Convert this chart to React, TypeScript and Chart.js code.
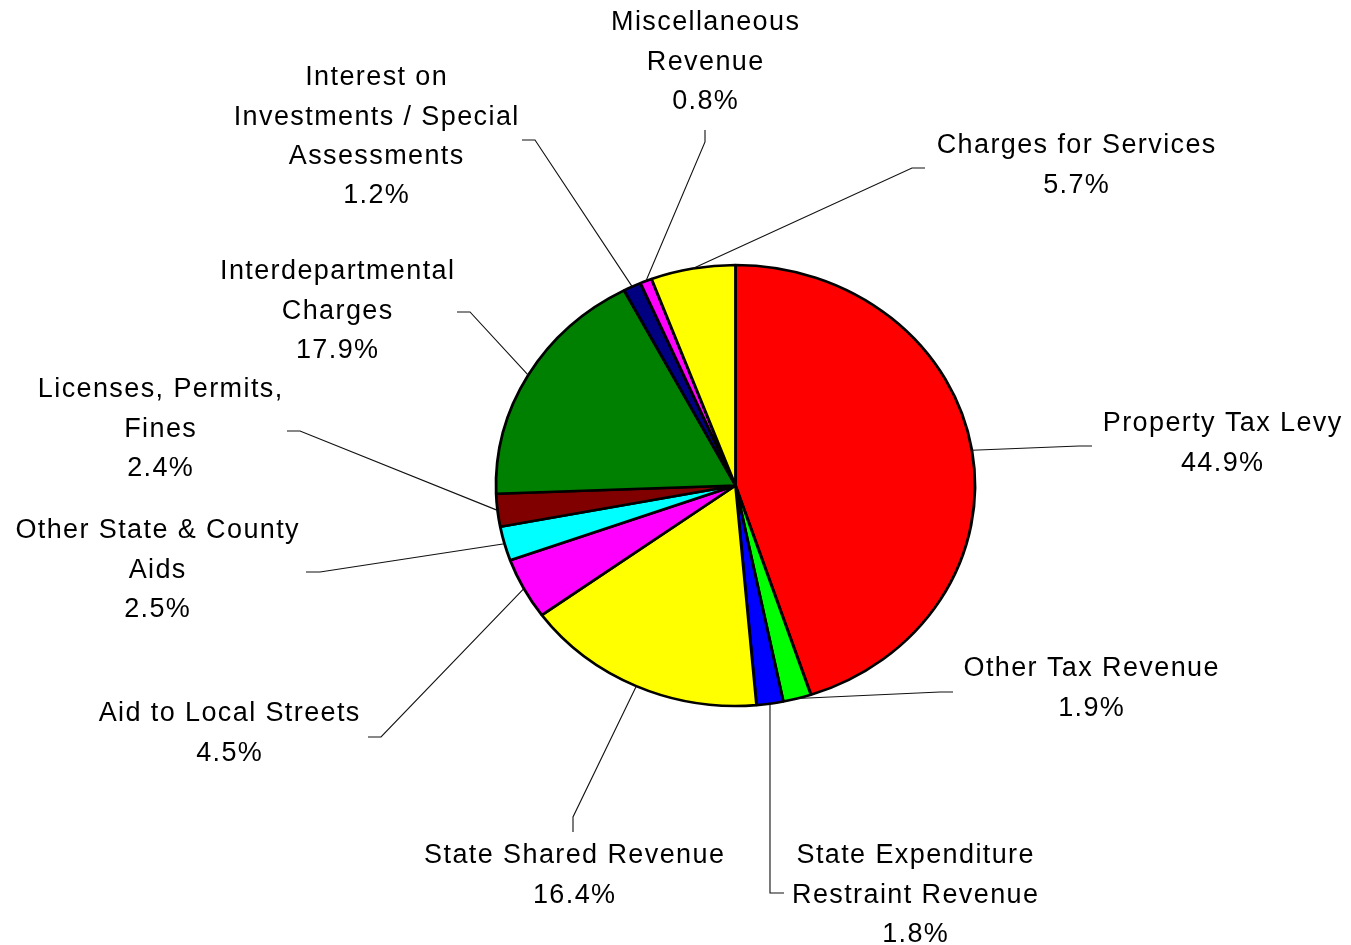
import React, { useEffect, useRef } from "react";
import { Chart, registerables } from "chart.js";

Chart.register(...registerables);

// ---- data ----
const categories: string[][] = [
  ["Property Tax Levy"],
  ["Other Tax Revenue"],
  ["State Expenditure", "Restraint Revenue"],
  ["State Shared Revenue"],
  ["Aid to Local Streets"],
  ["Other State & County", "Aids"],
  ["Licenses, Permits,", "Fines"],
  ["Interdepartmental", "Charges"],
  ["Interest on", "Investments / Special", "Assessments"],
  ["Miscellaneous", "Revenue"],
  ["Charges for Services"],
];
const shares: number[] = [44.9, 1.9, 1.8, 16.4, 4.5, 2.5, 2.4, 17.9, 1.2, 0.8, 5.7];
const sliceColors: string[] = [
  "#FF0000", "#00FF00", "#0000FF", "#FFFF00", "#FF00FF", "#00FFFF",
  "#800000", "#008000", "#000080", "#FF00FF", "#FFFF00",
];

// ---- layout (label placement, leader elbows) ----
const labelPos: [number, number][] = [
  [1222, 424], [1091, 669], [915, 856], [574, 856], [229, 714], [157, 531],
  [160, 390], [337, 272], [376, 78], [705, 23], [1076, 146],
];
const leaderElbow: [number, number][] = [
  [1079, 446], [940, 692], [770, 893], [573, 817], [381, 737], [320, 572],
  [300, 431], [470, 312], [535, 140], [705, 142], [912, 168],
];
const leaderEnd: [number, number][] = [
  [1092, 446], [953, 692], [784, 893], [573, 832], [368, 737], [306, 572],
  [287, 431], [457, 312], [522, 140], [705, 130], [925, 168],
];

const SX = 239.5 / 220.5; // horizontal stretch of the pie
const LINE_H = 39.3;
const LS = 1.4;

const stretchPlugin = {
  id: "stretch",
  beforeDatasetsDraw(chart: any) {
    const ctx = chart.ctx;
    const ca = chart.chartArea;
    const cx = (ca.left + ca.right) / 2;
    ctx.save();
    ctx.translate(cx, 0);
    ctx.scale(SX, 1);
    ctx.translate(-cx, 0);
  },
  afterDatasetsDraw(chart: any) {
    const ctx = chart.ctx;
    ctx.restore();
    const meta = chart.getDatasetMeta(0);
    ctx.save();
    // leaders
    ctx.strokeStyle = "#111";
    ctx.lineWidth = 1.1;
    meta.data.forEach((arc: any, i: number) => {
      const p = arc.getProps(["x", "y", "startAngle", "endAngle", "outerRadius"], true);
      const a = (p.startAngle + p.endAngle) / 2;
      const sx = p.x + p.outerRadius * SX * Math.cos(a);
      const sy = p.y + p.outerRadius * Math.sin(a);
      ctx.beginPath();
      ctx.moveTo(sx, sy);
      ctx.lineTo(leaderElbow[i][0], leaderElbow[i][1]);
      ctx.lineTo(leaderEnd[i][0], leaderEnd[i][1]);
      ctx.stroke();
    });
    // labels
    ctx.fillStyle = "#000";
    ctx.font = "27px 'Liberation Sans', Arial, sans-serif";
    (ctx as any).letterSpacing = LS + "px";
    ctx.textAlign = "center";
    ctx.textBaseline = "middle";
    categories.forEach((lines, i) => {
      const all = [...lines, shares[i].toFixed(1) + "%"];
      all.forEach((t, k) => {
        ctx.fillText(t, labelPos[i][0] + LS / 2, labelPos[i][1] + k * LINE_H);
      });
    });
    ctx.restore();
  },
};

export default function App() {
  const ref = useRef<HTMLCanvasElement | null>(null);
  useEffect(() => {
    document.body.style.margin = "0";
    const chart = new Chart(ref.current as HTMLCanvasElement, {
      type: "pie",
      data: {
        labels: categories,
        datasets: [
          {
            data: shares,
            backgroundColor: sliceColors,
            borderColor: "#000",
            borderWidth: 2.6,
          },
        ],
      },
      options: {
        animation: false,
        responsive: false,
        radius: 220.5,
        layout: { padding: { left: 170, right: 50, top: 60, bottom: 34 } },
        plugins: {
          legend: { display: false },
          tooltip: { enabled: false },
        },
      } as any,
      plugins: [stretchPlugin],
    });
    return () => chart.destroy();
  }, []);
  return (
    <div style={{ width: 1351, height: 945, background: "#fff" }}>
      <canvas ref={ref} width={1351} height={945} style={{ display: "block" }} />
    </div>
  );
}
